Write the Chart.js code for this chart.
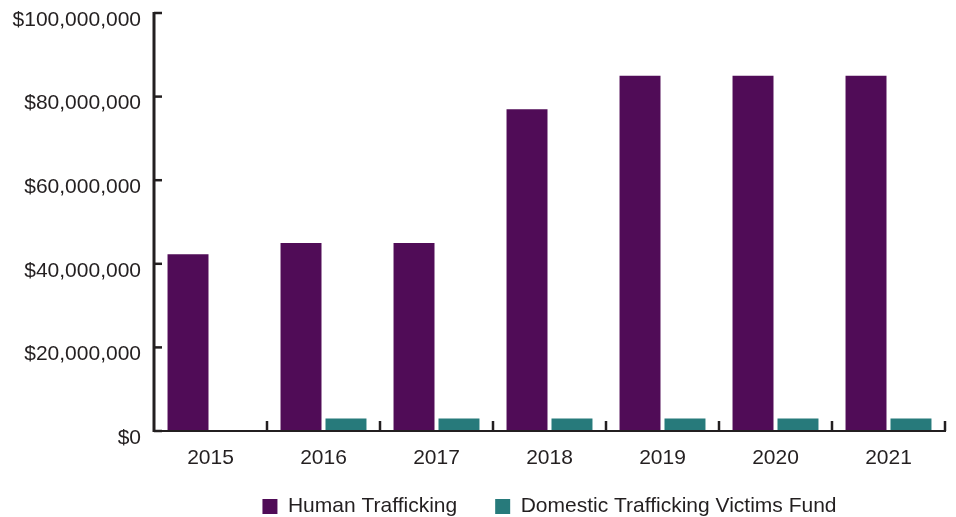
<!DOCTYPE html>
<html>
<head>
<meta charset="utf-8">
<script src="https://cdn.jsdelivr.net/npm/chart.js@4"></script>
<style>
  html, body { margin: 0; padding: 0; background: #ffffff; }
  #wrap { width: 956px; height: 517px; }
</style>
</head>
<body>
<div id="wrap"><canvas id="funding-chart" width="956" height="517"></canvas></div>
<script>
// ── Data ──────────────────────────────────────────────────────────────────────
const years = ["2015", "2016", "2017", "2018", "2019", "2020", "2021"];
const humanTrafficking = [42300000, 45000000, 45000000, 77000000, 85000000, 85000000, 85000000];
const domesticFund     = [0, 3000000, 3000000, 3000000, 3000000, 3000000, 3000000];
const yTickValues      = [0, 20000000, 40000000, 60000000, 80000000, 100000000];

const INK    = "#231f20";
const PURPLE = "#500c57";
const TEAL   = "#277a7b";
const FONT   = { family: "'Liberation Sans', Arial, Helvetica, sans-serif", size: 21 };

const fmtDollar = v => "$" + Math.round(v).toLocaleString("en-US");

// inward tick marks + axis lines, drawn from the chart's own scales
const axisPlugin = {
  id: "axisLines",
  afterLayout(chart) {
    // centre the legend under the plot area, a little lower than default
    const lg = chart.legend;
    const area = chart.chartArea;
    if (!lg) return;
    lg.left = area.left;
    lg.right = area.right;
    lg.top = area.bottom + 27;
    lg.bottom = chart.height;
    lg.height = lg.bottom - lg.top;
  },
  afterDatasetsDraw(chart) {
    const { ctx, chartArea: { left, right, top }, scales: { x, y } } = chart;
    const base = y.getPixelForValue(0);
    ctx.save();
    ctx.strokeStyle = INK;
    ctx.lineCap = "butt";

    // y axis + ticks pointing right
    ctx.lineWidth = 3;
    ctx.beginPath();
    ctx.moveTo(left, top - 1);
    ctx.lineTo(left, base + 1);
    ctx.stroke();
    ctx.lineWidth = 2.5;
    yTickValues.forEach(v => {
      const py = y.getPixelForValue(v);
      ctx.beginPath();
      ctx.moveTo(left, py);
      ctx.lineTo(left + 8, py);
      ctx.stroke();
    });

    // x axis + ticks pointing up at category boundaries
    ctx.lineWidth = 2;
    ctx.beginPath();
    ctx.moveTo(left, base);
    ctx.lineTo(right + 1, base);
    ctx.stroke();
    ctx.lineWidth = 2.5;
    const n = years.length;
    for (let i = 1; i <= n; i++) {
      const px = x.left + i * (x.right - x.left) / n;
      ctx.beginPath();
      ctx.moveTo(px, base);
      ctx.lineTo(px, base - 10);
      ctx.stroke();
    }
    ctx.restore();
  },
};

const ctx = document.getElementById("funding-chart").getContext("2d");
new Chart(ctx, {
  type: "bar",
  data: {
    labels: years,
    datasets: [
      {
        label: "Human Trafficking",
        data: humanTrafficking,
        backgroundColor: PURPLE,
        borderWidth: 0,
        categoryPercentage: 0.796,
        barPercentage: 0.911,
      },
      {
        label: "Domestic Trafficking Victims Fund",
        data: domesticFund,
        backgroundColor: TEAL,
        borderWidth: 0,
        categoryPercentage: 0.796,
        barPercentage: 0.911,
      },
    ],
  },
  options: {
    responsive: false,
    animation: false,
    layout: { padding: { left: 0, right: 11, top: 13, bottom: 0 } },
    plugins: {
      tooltip: { enabled: false },
      legend: {
        position: "bottom",
        maxHeight: 40,
        labels: {
          color: INK,
          font: FONT,
          boxWidth: 15,
          boxHeight: 15,
          padding: 38,
        },
      },
    },
    scales: {
      x: {
        grid: { display: false, drawTicks: false },
        border: { display: false },
        ticks: { color: INK, font: FONT, padding: 15 },
        afterFit: s => { s.height = 46; },
      },
      y: {
        min: 0,
        max: 100000000,
        grid: { display: false, drawTicks: false },
        border: { display: false },
        ticks: {
          color: INK,
          font: FONT,
          padding: 13,
          stepSize: 20000000,
          labelOffset: 7,
          callback: v => fmtDollar(v),
        },
        afterFit: s => { s.width = 154; s.paddingTop = 0; s.paddingBottom = 0; },
      },
    },
  },
  plugins: [axisPlugin],
});
</script>
</body>
</html>
